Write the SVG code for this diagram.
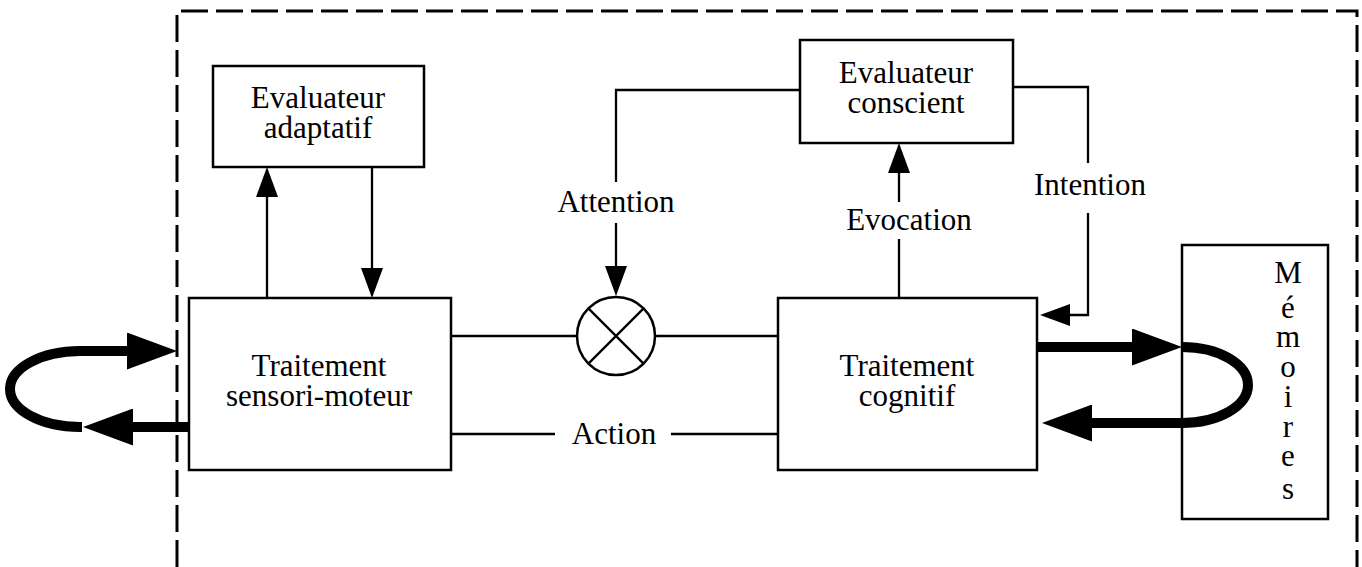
<svg xmlns="http://www.w3.org/2000/svg" width="1362" height="567" viewBox="0 0 1362 567">
  <style>
    .box { fill: #fff; stroke: #000; stroke-width: 2.5; }
    .line { fill: none; stroke: #000; stroke-width: 2.3; }
    .thick { fill: none; stroke: #000; stroke-width: 10; }
    .frame { fill: none; stroke: #000; stroke-width: 3; stroke-dasharray: 27 8; }
    .lbl { font-family: "Liberation Serif", "Times New Roman", serif; font-size: 31px; fill: #000; text-anchor: middle; }
  </style>
  <defs>
    <marker id="arr" viewBox="0 0 30 22" refX="0" refY="11" markerWidth="30" markerHeight="22" markerUnits="userSpaceOnUse" orient="auto">
      <path d="M0,0 L30,11 L0,22 z" fill="#000"/>
    </marker>
    <marker id="arrBig" viewBox="0 0 50 37" refX="0" refY="18.5" markerWidth="50" markerHeight="37" markerUnits="userSpaceOnUse" orient="auto">
      <path d="M0,0 L50,18.5 L0,37 z" fill="#000"/>
    </marker>
  </defs>
  <rect width="1362" height="567" fill="#fff"/>

  <g id="frame">
    <path class="frame" d="M177,567 V11 H1357 V567"/>
  </g>

  <g id="eval-adaptatif">
    <rect class="box" x="213" y="66" width="211" height="101"/>
    <text class="lbl" x="318" y="108">Evaluateur</text>
    <text class="lbl" x="318" y="138">adaptatif</text>
  </g>

  <g id="eval-conscient">
    <rect class="box" x="800" y="40" width="213" height="103"/>
    <text class="lbl" x="906" y="83">Evaluateur</text>
    <text class="lbl" x="906" y="113">conscient</text>
  </g>

  <g id="sensori-moteur">
    <rect class="box" x="189" y="298" width="262" height="172"/>
    <text class="lbl" x="319" y="376">Traitement</text>
    <text class="lbl" x="319" y="406">sensori-moteur</text>
  </g>

  <g id="cognitif">
    <rect class="box" x="778" y="298" width="259" height="172"/>
    <text class="lbl" x="907" y="376">Traitement</text>
    <text class="lbl" x="907" y="406">cognitif</text>
  </g>

  <g id="multiplier">
    <circle cx="616" cy="336" r="39" fill="#fff" stroke="#000" stroke-width="2.5"/>
    <path class="line" d="M588.4,308.4 L643.6,363.6 M643.6,308.4 L588.4,363.6"/>
  </g>

  <g id="memoires">
    <rect class="box" x="1182" y="245" width="146" height="274"/>
    <text class="lbl" x="1288" y="283">M</text>
    <text class="lbl" x="1288" y="318">é</text>
    <text class="lbl" x="1288" y="347">m</text>
    <text class="lbl" x="1288" y="377">o</text>
    <text class="lbl" x="1288" y="407">i</text>
    <text class="lbl" x="1288" y="437">r</text>
    <text class="lbl" x="1288" y="466">e</text>
    <text class="lbl" x="1288" y="499">s</text>
  </g>

  <g id="labels">
    <text class="lbl" x="616" y="212">Attention</text>
    <text class="lbl" x="909" y="230">Evocation</text>
    <text class="lbl" x="1090" y="195">Intention</text>
    <text class="lbl" x="614" y="444">Action</text>
  </g>

  <g id="connectors">
    <!-- adaptatif loop -->
    <path class="line" d="M267,298 V197" marker-end="url(#arr)"/>
    <path class="line" d="M372,167 V268" marker-end="url(#arr)"/>
    <!-- attention -->
    <path class="line" d="M800,90 H616 V182"/>
    <path class="line" d="M616,223 V266" marker-end="url(#arr)"/>
    <!-- evocation -->
    <path class="line" d="M899,298 V239"/>
    <path class="line" d="M899,202 V173" marker-end="url(#arr)"/>
    <!-- intention -->
    <path class="line" d="M1013,87 H1088 V163"/>
    <path class="line" d="M1088,213 V315 H1070" marker-end="url(#arr)"/>
    <!-- through multiplier -->
    <path class="line" d="M451,336 H577"/>
    <path class="line" d="M655,336 H778"/>
    <!-- action -->
    <path class="line" d="M451,434 H555"/>
    <path class="line" d="M671,434 H778"/>
    <!-- left thick loop -->
    <path class="thick" d="M189,427 H133" marker-end="url(#arrBig)"/>
    <path class="thick" d="M82,427 L80,427 A70,38 0 0 1 80,351 H127" marker-end="url(#arrBig)"/>
    <!-- right thick loop -->
    <path class="thick" d="M1037,347 H1132" marker-end="url(#arrBig)"/>
    <path class="thick" d="M1182,347 A66,38 0 0 1 1182,423 H1092" marker-end="url(#arrBig)"/>
  </g>
</svg>
